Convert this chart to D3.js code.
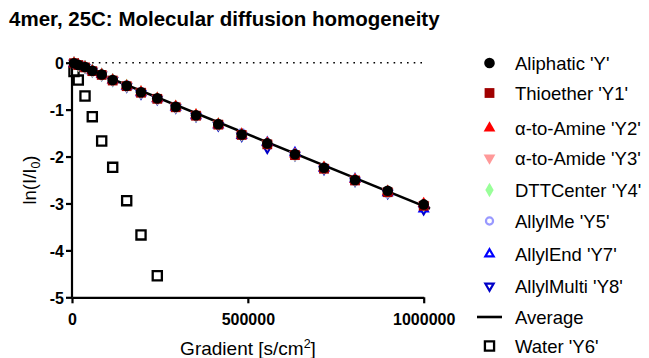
<!DOCTYPE html>
<html>
<head>
<meta charset="utf-8">
<script src="https://cdn.jsdelivr.net/npm/d3@7"></script>
<style>
  html, body { margin: 0; padding: 0; background: #fff; }
  svg { display: block; font-family: Arial, "Liberation Sans", sans-serif; }
</style>
</head>
<body>
<svg id="chart" width="649" height="358"></svg>
<script>
// Gradient values shared by every probe series
const gradient = [5700, 17900, 37000, 57700, 84400, 115700, 155500, 196200, 242500, 294900,
  352600, 416000, 482500, 555300, 634000, 716500, 804700, 897600, 1000000];

const aliphatic  = [-0.01, -0.05, -0.09, -0.17, -0.25, -0.37, -0.49, -0.63, -0.76, -0.94, -1.12, -1.31, -1.53, -1.72, -1.95, -2.24, -2.50, -2.73, -3.02];
const thioether  = [-0.01, -0.05, -0.10, -0.18, -0.26, -0.38, -0.50, -0.64, -0.77, -0.95, -1.13, -1.32, -1.54, -1.74, -1.97, -2.26, -2.51, -2.76, -3.05];
const alphaAmine = [-0.01, -0.05, -0.09, -0.17, -0.25, -0.37, -0.49, -0.62, -0.76, -0.93, -1.11, -1.31, -1.52, -1.71, -1.95, -2.23, -2.49, -2.74, -3.00];
const alphaAmide = [-0.01, -0.05, -0.09, -0.17, -0.25, -0.36, -0.49, -0.63, -0.76, -0.94, -1.12, -1.31, -1.53, -1.73, -1.96, -2.24, -2.50, -2.75, -3.03];
const dttCenter  = [-0.01, -0.05, -0.09, -0.17, -0.25, -0.37, -0.49, -0.63, -0.76, -0.94, -1.12, -1.31, -1.53, -1.72, -1.96, -2.24, -2.50, -2.75, -3.04];
const allylMe    = [-0.01, -0.04, -0.09, -0.16, -0.25, -0.36, -0.47, -0.61, -0.76, -0.92, -1.12, -1.30, -1.49, -1.72, -1.98, -2.22, -2.53, -2.79, -3.05];
const allylEnd   = [-0.01, -0.05, -0.09, -0.17, -0.25, -0.37, -0.50, -0.64, -0.77, -0.95, -1.13, -1.33, -1.55, -1.70, -1.92, -2.25, -2.48, -2.77, -3.12];
const allylMulti = [-0.01, -0.05, -0.10, -0.18, -0.26, -0.38, -0.51, -0.66, -0.78, -0.96, -1.14, -1.34, -1.56, -1.82, -1.97, -2.27, -2.52, -2.78, -3.13];
const water      = [-0.19, -0.37, -0.71, -1.15, -1.67, -2.23, -2.94, -3.67, -4.54];

// Fitted average line end points
const averageX = [0, 1018000];
const averageY = [0, -3.11];

const xTicks = [0, 500000, 1000000];
const yTicks = [0, -1, -2, -3, -4, -5];

const seriesNames = ["Aliphatic 'Y'", "Thioether 'Y1'", "\u03b1-to-Amine 'Y2'", "\u03b1-to-Amide 'Y3'",
  "DTTCenter 'Y4'", "AllylMe 'Y5'", "AllylEnd 'Y7'", "AllylMulti 'Y8'", "Average", "Water 'Y6'"];

const svg = d3.select("#chart");

const x = d3.scaleLinear().domain([0, 1000000]).range([72, 423.7]);
const y = d3.scaleLinear().domain([-5, 0]).range([297.3, 62.7]);

// Title
svg.append("text")
  .attr("x", 9).attr("y", 26)
  .attr("font-size", 20.5).attr("font-weight", "bold")
  .text("4mer, 25C: Molecular diffusion homogeneity");

// Zero reference (dotted)
svg.append("line")
  .attr("x1", x(0)).attr("x2", x(1000000)).attr("y1", y(0)).attr("y2", y(0))
  .attr("stroke", "#000").attr("stroke-width", 1.6).attr("stroke-dasharray", "1.6,5.1");

// Axes
const xAxis = svg.append("g").attr("transform", `translate(0,${y(-5)})`)
  .call(d3.axisBottom(x).tickValues(xTicks).tickFormat(d3.format("d")).tickSize(6).tickSizeOuter(0));
const yAxis = svg.append("g").attr("transform", `translate(${x(0)},0)`)
  .call(d3.axisLeft(y).tickValues(yTicks).tickFormat(d => d === 0 ? "0" : d3.format("d")(d).replace("\u2212", "-")).tickSize(6).tickSizeOuter(0));
yAxis.select(".domain").attr("d", `M0,${y(-5)}V${y(0) - 3.5}`);
[xAxis, yAxis].forEach(g => {
  g.select(".domain").attr("stroke-width", 2.2);
  g.selectAll(".tick line").attr("stroke-width", 2.2);
  g.selectAll(".tick text").attr("font-size", 16).attr("font-weight", "bold")
    .attr("font-family", "Arial, 'Liberation Sans', sans-serif").attr("fill", "#000");
});
xAxis.selectAll(".tick text").attr("dy", "1.15em");
yAxis.selectAll(".tick text").attr("x", -8).attr("dy", "0.36em");

// Axis titles
const xt = svg.append("text").attr("x", 248).attr("y", 355).attr("text-anchor", "middle").attr("font-size", 19);
xt.append("tspan").text("Gradient [s/cm");
xt.append("tspan").attr("font-size", 12.5).attr("dy", -7).text("2");
xt.append("tspan").attr("dy", 7).text("]");

const yt = svg.append("text").attr("transform", "translate(36,180) rotate(-90)")
  .attr("text-anchor", "middle").attr("font-size", 18.5);
yt.append("tspan").text("ln(I/I");
yt.append("tspan").attr("font-size", 12.5).attr("dy", 4).text("0");
yt.append("tspan").attr("dy", -4).text(")");

// Marker definitions
const sym = {
  circle: d3.symbol(d3.symbolCircle, 88)(),
  square: d3.symbol(d3.symbolSquare, 96)(),
  tri: d3.symbol(d3.symbolTriangle, 60)(),
  diamond: d3.symbol(d3.symbolDiamond, 60)(),
  ocircle: d3.symbol(d3.symbolCircle, 40)(),
  otri: d3.symbol(d3.symbolTriangle, 30)(),
  square2: d3.symbol(d3.symbolSquare, 84)()
};
const styles = [
  { d: sym.circle, fill: "#000", stroke: "none" },
  { d: sym.square, fill: "#a00000", stroke: "none" },
  { d: sym.tri, fill: "#ff0000", stroke: "none" },
  { d: sym.tri, fill: "#ff9999", stroke: "none", rot: 180 },
  { d: sym.diamond, fill: "#99ff99", stroke: "none" },
  { d: sym.ocircle, fill: "none", stroke: "#9999ff", sw: 2.2 },
  { d: sym.otri, fill: "none", stroke: "#0000ff", sw: 2.2 },
  { d: sym.otri, fill: "none", stroke: "#0000c8", sw: 2.2, rot: 180 },
  null,
  { d: sym.square2, fill: "none", stroke: "#000", sw: 2.3 }
];
const seriesValues = [aliphatic, thioether, alphaAmine, alphaAmide, dttCenter, allylMe, allylEnd, allylMulti, null, water];

function drawMarks(g, i, pts) {
  const s = styles[i];
  g.selectAll(null).data(pts).join("path")
    .attr("d", s.d)
    .attr("transform", p => `translate(${p[0]},${p[1]})` + (s.rot ? ` rotate(${s.rot})` : ""))
    .attr("fill", s.fill).attr("stroke", s.stroke).attr("stroke-width", s.sw || 0);
}

const plot = svg.append("g");
// Water sits underneath everything else
drawMarks(plot.append("g"), 9, water.map((v, k) => [x(gradient[k]), y(v)]));
// Average line
plot.append("path")
  .datum(averageX.map((v, k) => [v, averageY[k]]))
  .attr("d", d3.line().x(d => x(d[0])).y(d => y(d[1])))
  .attr("fill", "none").attr("stroke", "#000").attr("stroke-width", 2.6);
// Probe series, first series drawn last so it sits on top
for (let i = 7; i >= 0; i--) {
  drawMarks(plot.append("g"), i, seriesValues[i].map((v, k) => [x(gradient[k]), y(v)]));
}

// Legend
const legendY = [63, 93, 128, 158, 190, 221, 254, 286, 317, 346];
const legend = svg.append("g");
seriesNames.forEach((name, i) => {
  const row = legend.append("g");
  if (i === 8) {
    row.append("line").attr("x1", 477).attr("x2", 502).attr("y1", legendY[i]).attr("y2", legendY[i])
      .attr("stroke", "#000").attr("stroke-width", 2.6);
  } else {
    drawMarks(row, i, [[489.5, legendY[i]]]);
  }
  row.append("text").attr("x", 515).attr("y", legendY[i]).attr("dy", "0.36em")
    .attr("font-size", 18.5).text(name);
});
</script>
</body>
</html>
